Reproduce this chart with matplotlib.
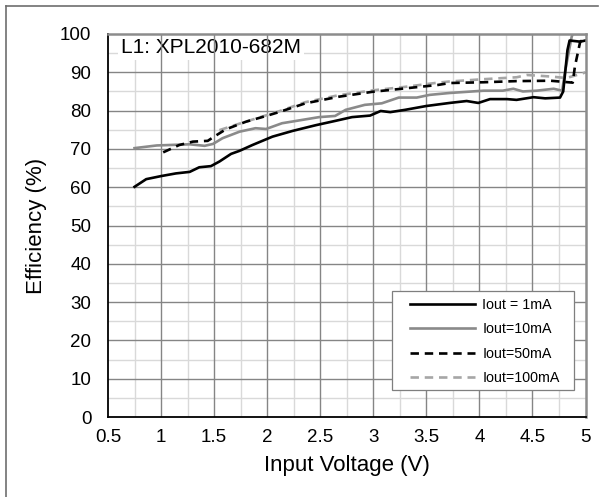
import matplotlib
matplotlib.use("Agg")
import matplotlib.pyplot as plt
import numpy as np
from matplotlib.lines import Line2D
from matplotlib.patches import Rectangle

plt.rcParams['font.family'] = ['Liberation Sans', 'DejaVu Sans']

# ---- data ----
v_1mA = [0.75, 0.86, 1.0, 1.14, 1.27, 1.36, 1.47, 1.55, 1.66, 1.74, 1.86, 2.05, 2.24, 2.46, 2.64,
         2.80, 2.97, 3.07, 3.16, 3.30, 3.50, 3.72, 3.88, 3.99, 4.10, 4.26, 4.35, 4.51, 4.62, 4.76,
         4.79, 4.83, 4.85, 4.95, 5.0]
e_1mA = [60.1, 62.1, 62.9, 63.6, 64.0, 65.2, 65.5, 66.7, 68.7, 69.5, 71.0, 73.2, 74.7, 76.2, 77.3,
         78.3, 78.7, 79.9, 79.6, 80.2, 81.2, 82.0, 82.5, 82.0, 83.0, 83.0, 82.8, 83.5, 83.2, 83.4,
         85.0, 95.8, 98.3, 98.0, 98.3]

v_10mA = [0.75, 0.96, 1.27, 1.41, 1.49, 1.58, 1.74, 1.89, 1.99, 2.14, 2.49, 2.64, 2.74, 2.92,
          3.08, 3.24, 3.41, 3.53, 3.72, 4.04, 4.22, 4.32, 4.41, 4.54, 4.70, 4.78, 4.81, 4.87,
          4.88, 5.0]
e_10mA = [70.2, 70.9, 71.2, 70.8, 71.3, 72.8, 74.5, 75.4, 75.2, 76.7, 78.3, 78.6, 80.2, 81.5,
          81.9, 83.4, 83.4, 84.1, 84.6, 85.2, 85.2, 85.7, 85.0, 85.2, 85.7, 85.2, 90.6, 99.3,
          100.0, 100.0]

v_50mA = [1.02, 1.17, 1.30, 1.44, 1.50, 1.61, 1.80, 1.99, 2.11, 2.36, 2.67, 2.99, 3.30, 3.61,
          3.72, 4.04, 4.35, 4.67, 4.88, 4.90, 4.95, 5.0]
e_50mA = [69.1, 71.0, 71.9, 72.1, 73.2, 75.1, 77.1, 78.6, 79.6, 81.9, 83.6, 84.9, 85.8, 86.7,
          87.2, 87.4, 87.7, 87.8, 87.3, 91.5, 98.0, 98.9]

v_100mA = [1.55, 1.74, 2.11, 2.36, 2.67, 3.0, 3.30, 3.61, 3.72, 4.04, 4.35, 4.45, 4.67, 4.82, 4.98, 5.0]
e_100mA = [74.9, 76.6, 79.8, 82.2, 84.0, 85.3, 86.2, 87.3, 87.6, 88.2, 88.7, 89.3, 88.9, 88.5, 89.8, 90.0]

labels = ['Iout = 1mA', 'Iout=10mA', 'Iout=50mA', 'Iout=100mA']
x_ticks = [0.5, 1, 1.5, 2, 2.5, 3, 3.5, 4, 4.5, 5]
y_ticks = [0, 10, 20, 30, 40, 50, 60, 70, 80, 90, 100]
x_tick_labels = ['0.5', '1', '1.5', '2', '2.5', '3', '3.5', '4', '4.5', '5']

W, H = 605, 497

# ---- figure ----
fig = plt.figure(figsize=(W/100, H/100), dpi=100)
ax = fig.add_axes([108/W, 1-417/H, (585.5-108)/W, (417-34)/H])

ax.set_xlim(0.5, 5)
ax.set_ylim(0, 100)

# grid: minor under the label box, major above
for xm in np.arange(0.75, 5, 0.5):
    ax.axvline(xm, color='#d9d9d9', lw=1.0, zorder=0.5)
for ym in np.arange(5, 100, 10):
    ax.axhline(ym, color='#d9d9d9', lw=1.0, zorder=0.5)
for xM in x_ticks[1:-1]:
    ax.axvline(xM, color='#858585', lw=1.0, zorder=1.5)
for yM in y_ticks[1:-1]:
    ax.axhline(yM, color='#858585', lw=1.0, zorder=1.5)

h1, = ax.plot(v_1mA, e_1mA, color='black', lw=1.9, zorder=4)
h2, = ax.plot(v_10mA, e_10mA, color='#8a8a8a', lw=1.9, zorder=3)
h3, = ax.plot(v_50mA, e_50mA, color='black', lw=1.9, ls=(0, (3.2, 2.2)), zorder=3.5)
h4, = ax.plot(v_100mA, e_100mA, color='#a6a6a6', lw=1.9, ls=(0, (3.2, 2.2)), zorder=3.2)

ax.set_xticks(x_ticks)
ax.set_xticklabels(x_tick_labels)
ax.set_yticks(y_ticks)
ax.tick_params(axis='both', length=0, labelsize=13.5)
ax.tick_params(axis='y', pad=12)
ax.tick_params(axis='x', pad=9)

for side in ['left', 'bottom']:
    ax.spines[side].set_color('black')
    ax.spines[side].set_linewidth(1.3)
for side in ['top', 'right']:
    ax.spines[side].set_color('#8c8c8c')
    ax.spines[side].set_linewidth(1.8)
for s in ax.spines.values():
    s.set_zorder(5)

ax.set_xlabel('Input Voltage (V)', fontsize=16, labelpad=6)
ax.set_ylabel('Efficiency (%)', fontsize=16, labelpad=9)

ax.text(0.027, 0.99, 'L1: XPL2010-682M', transform=ax.transAxes, fontsize=15,
        ha='left', va='top', zorder=1,
        bbox=dict(boxstyle='square,pad=0.15', fc='white', ec='none'))

# legend box (frame drawn separately to match the wide side padding)
fig.add_artist(Rectangle((392/W, 1-390/H), (574-392)/W, (390-290.5)/H,
                         transform=fig.transFigure, fc='white', ec='#7f7f7f',
                         lw=0.9, zorder=6))
leg = fig.legend([h1, h2, h3, h4], labels, loc='upper left',
                 bbox_to_anchor=(410/W, 1-298/H),
                 bbox_transform=fig.transFigure, fontsize=10.3, frameon=False,
                 handlelength=4.55, handletextpad=0.5, labelspacing=0.72,
                 borderpad=0, borderaxespad=0)
leg.set_zorder(7)

# outer frame (top & left edges visible in the reference)
fig.add_artist(Line2D([6/W, 598/W], [1-6/H, 1-6/H], transform=fig.transFigure,
                      color='#6e6e6e', lw=1.2))
fig.add_artist(Line2D([6/W, 6/W], [1-6/H, 0], transform=fig.transFigure,
                      color='#6e6e6e', lw=1.2))

fig.savefig('out.png', dpi=100)
